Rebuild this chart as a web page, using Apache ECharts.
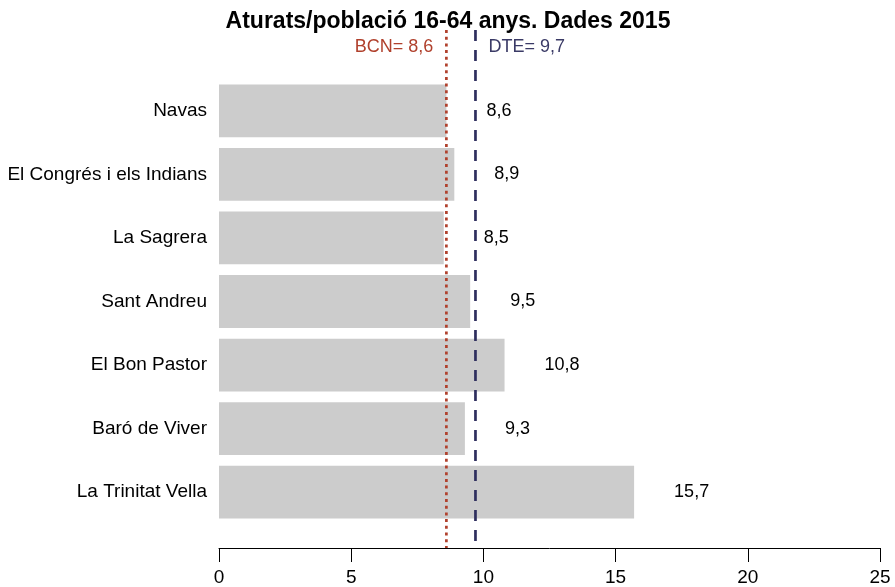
<!DOCTYPE html>
<html>
<head>
<meta charset="utf-8">
<script src="https://cdn.jsdelivr.net/npm/echarts@6/dist/echarts.min.js"></script>
<style>html,body{margin:0;padding:0;background:#fff}#c{width:895px;height:587px}</style>
</head>
<body>
<div id="c"></div>
<script>
var categories = ["Navas", "El Congrés i els Indians", "La Sagrera", "Sant Andreu", "El Bon Pastor", "Baró de Viver", "La Trinitat Vella"];
var values = [8.6, 8.9, 8.5, 9.5, 10.8, 9.3, 15.7];
var xTicks = [0, 5, 10, 15, 20, 25];
var refBCN = 8.6;
var refDTE = 9.7;
var titleText = "Aturats/població 16-64 anys. Dades 2015";

var FONT = "Liberation Sans, Arial, sans-serif";
var fmt = function (v) { return String(v).replace('.', ','); };

var chart = echarts.init(document.getElementById('c'), null, {renderer: 'canvas'});

function refLine(val, name, color, textColor, type, side) {
  return {
    type: 'line', xAxisIndex: 1, yAxisIndex: 1, symbol: 'circle', symbolSize: 0.01, showSymbol: true,
    silent: true, animation: false,
    itemStyle: {color: color},
    lineStyle: {color: color, width: 2.7, type: type},
    label: {show: false},
    data: [
      {value: [val, 1], label: {show: true, position: side, distance: 13, offset: [0, 17],
        formatter: name + '= ' + fmt(val), color: textColor, fontSize: 18, fontFamily: FONT}},
      {value: [val, 0]}
    ]
  };
}

chart.setOption({
  animation: false,
  title: {text: titleText, left: 443, top: 5, textAlign: 'center',
    textStyle: {fontFamily: FONT, fontWeight: 'bold', fontSize: 23, color: '#000'}},
  grid: [
    {left: 219, right: 15, top: 79, bottom: 63},
    {left: 219, right: 15, top: 30, bottom: 38}
  ],
  xAxis: [
    {gridIndex: 0, type: 'value', min: 0, max: 25, interval: 5, show: false},
    {gridIndex: 1, type: 'value', min: 0, max: 25, interval: 5,
      axisLine: {show: true, lineStyle: {color: '#000', width: 1}},
      axisTick: {show: true, length: 14, lineStyle: {color: '#000'}},
      splitLine: {show: false},
      axisLabel: {margin: 20, fontSize: 19, fontFamily: FONT, color: '#000',
        customValues: xTicks}}
  ],
  yAxis: [
    {gridIndex: 0, type: 'category', data: categories, inverse: true,
      axisLine: {show: false}, axisTick: {show: false},
      axisLabel: {margin: 12, fontSize: 19, fontFamily: FONT, color: '#000'}},
    {gridIndex: 1, type: 'value', min: 0, max: 1, show: false}
  ],
  series: [
    {type: 'bar', xAxisIndex: 0, yAxisIndex: 0, data: values, barCategoryGap: '17%',
      itemStyle: {color: '#CCCCCC'},
      label: {show: true, position: 'right', distance: 40, formatter: function (p) { return fmt(p.value); },
        fontSize: 18, fontFamily: FONT, color: '#000'}},
    refLine(refBCN, 'BCN', '#B0402C', '#B0402C', [3, 3.7], 'left'),
    refLine(refDTE, 'DTE', '#2E2E5E', '#3A3A66', [11, 9], 'right')
  ]
});
</script>
</body>
</html>
